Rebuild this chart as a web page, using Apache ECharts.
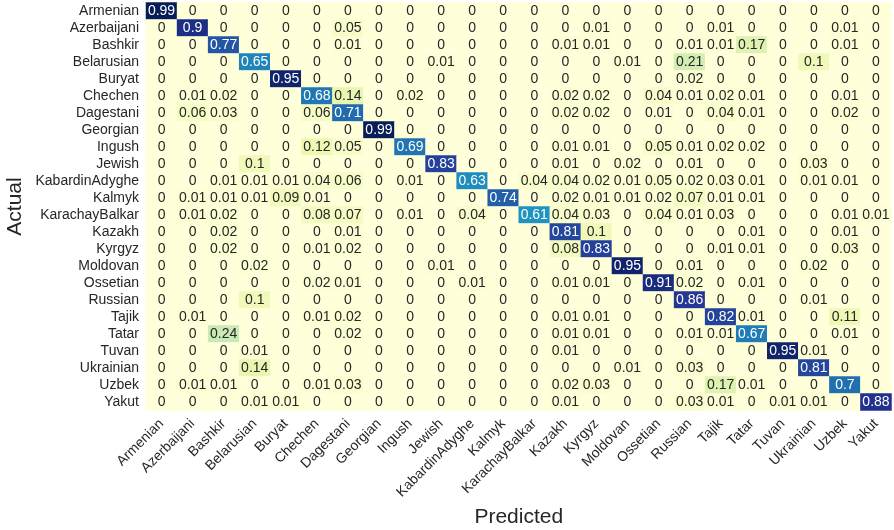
<!DOCTYPE html>
<html>
<head>
<meta charset="utf-8">
<script src="https://cdn.jsdelivr.net/npm/echarts@6/dist/echarts.min.js"></script>
<style>
  html, body { margin: 0; padding: 0; background: #ffffff; }
  #chart { width: 894px; height: 530px; }
</style>
</head>
<body>
<div id="chart"></div>
<script>
// Class labels (same order for actual rows and predicted columns)
const classes = [
  'Armenian', 'Azerbaijani', 'Bashkir', 'Belarusian', 'Buryat', 'Chechen',
  'Dagestani', 'Georgian', 'Ingush', 'Jewish', 'KabardinAdyghe', 'Kalmyk',
  'KarachayBalkar', 'Kazakh', 'Kyrgyz', 'Moldovan', 'Ossetian', 'Russian',
  'Tajik', 'Tatar', 'Tuvan', 'Ukrainian', 'Uzbek', 'Yakut'
];

// Normalised confusion matrix, one row per actual class
const rowArmenian       = [0.99,0,0,0,0,0,0,0,0,0,0,0,0,0,0,0,0,0,0,0,0,0,0,0];
const rowAzerbaijani    = [0,0.9,0,0,0,0,0.05,0,0,0,0,0,0,0,0.01,0,0,0,0.01,0,0,0,0.01,0];
const rowBashkir        = [0,0,0.77,0,0,0,0.01,0,0,0,0,0,0,0.01,0.01,0,0,0.01,0.01,0.17,0,0,0.01,0];
const rowBelarusian     = [0,0,0,0.65,0,0,0,0,0,0.01,0,0,0,0,0,0.01,0,0.21,0,0,0,0.1,0,0];
const rowBuryat         = [0,0,0,0,0.95,0,0,0,0,0,0,0,0,0,0,0,0,0.02,0,0,0,0,0,0];
const rowChechen        = [0,0.01,0.02,0,0,0.68,0.14,0,0.02,0,0,0,0,0.02,0.02,0,0.04,0.01,0.02,0.01,0,0,0.01,0];
const rowDagestani      = [0,0.06,0.03,0,0,0.06,0.71,0,0,0,0,0,0,0.02,0.02,0,0.01,0,0.04,0.01,0,0,0.02,0];
const rowGeorgian       = [0,0,0,0,0,0,0,0.99,0,0,0,0,0,0,0,0,0,0,0,0,0,0,0,0];
const rowIngush         = [0,0,0,0,0,0.12,0.05,0,0.69,0,0,0,0,0.01,0.01,0,0.05,0.01,0.02,0.02,0,0,0,0];
const rowJewish         = [0,0,0,0.1,0,0,0,0,0,0.83,0,0,0,0.01,0,0.02,0,0.01,0,0,0,0.03,0,0];
const rowKabardinAdyghe = [0,0,0.01,0.01,0.01,0.04,0.06,0,0.01,0,0.63,0,0.04,0.04,0.02,0.01,0.05,0.02,0.03,0.01,0,0.01,0.01,0];
const rowKalmyk         = [0,0.01,0.01,0.01,0.09,0.01,0,0,0,0,0,0.74,0,0.02,0.01,0.01,0.02,0.07,0.01,0.01,0,0,0,0];
const rowKarachayBalkar = [0,0.01,0.02,0,0,0.08,0.07,0,0.01,0,0.04,0,0.61,0.04,0.03,0,0.04,0.01,0.03,0,0,0,0.01,0.01];
const rowKazakh         = [0,0,0.02,0,0,0,0.01,0,0,0,0,0,0,0.81,0.1,0,0,0,0,0.01,0,0,0.01,0];
const rowKyrgyz         = [0,0,0.02,0,0,0.01,0.02,0,0,0,0,0,0,0.08,0.83,0,0,0,0.01,0.01,0,0,0.03,0];
const rowMoldovan       = [0,0,0,0.02,0,0,0,0,0,0.01,0,0,0,0,0,0.95,0,0.01,0,0,0,0.02,0,0];
const rowOssetian       = [0,0,0,0,0,0.02,0.01,0,0,0,0.01,0,0,0.01,0.01,0,0.91,0.02,0,0.01,0,0,0,0];
const rowRussian        = [0,0,0,0.1,0,0,0,0,0,0,0,0,0,0,0,0,0,0.86,0,0,0,0.01,0,0];
const rowTajik          = [0,0.01,0,0,0,0.01,0.02,0,0,0,0,0,0,0.01,0.01,0,0,0,0.82,0.01,0,0,0.11,0];
const rowTatar          = [0,0,0.24,0,0,0,0.02,0,0,0,0,0,0,0.01,0.01,0,0,0.01,0.01,0.67,0,0,0.01,0];
const rowTuvan          = [0,0,0,0.01,0,0,0,0,0,0,0,0,0,0.01,0,0,0,0,0,0,0.95,0.01,0,0];
const rowUkrainian      = [0,0,0,0.14,0,0,0,0,0,0,0,0,0,0,0,0.01,0,0.03,0,0,0,0.81,0,0];
const rowUzbek          = [0,0.01,0.01,0,0,0.01,0.03,0,0,0,0,0,0,0.02,0.03,0,0,0,0.17,0.01,0,0,0.7,0];
const rowYakut          = [0,0,0,0.01,0.01,0,0,0,0,0,0,0,0,0.01,0,0,0,0.03,0.01,0,0.01,0.01,0,0.88];

const matrix = [
  rowArmenian, rowAzerbaijani, rowBashkir, rowBelarusian, rowBuryat, rowChechen,
  rowDagestani, rowGeorgian, rowIngush, rowJewish, rowKabardinAdyghe, rowKalmyk,
  rowKarachayBalkar, rowKazakh, rowKyrgyz, rowMoldovan, rowOssetian, rowRussian,
  rowTajik, rowTatar, rowTuvan, rowUkrainian, rowUzbek, rowYakut
];

// YlGnBu sequential palette
const palette = ['#ffffd9', '#edf8b1', '#c7e9b4', '#7fcdbb', '#41b6c4',
                 '#1d91c0', '#225ea8', '#253494', '#081d58'];

const vmax = Math.max(...matrix.map(r => Math.max(...r)));

const cells = [];
matrix.forEach((row, r) => {
  row.forEach((v, c) => {
    cells.push({
      value: [c, r, v],
      label: { color: v > 0.45 ? '#ffffff' : '#262626' }
    });
  });
});

const chart = echarts.init(document.getElementById('chart'), null, { renderer: 'canvas' });

const font = '"Liberation Sans", Arial, sans-serif';

chart.setOption({
  backgroundColor: '#ffffff',
  animation: false,
  grid: {
    left: 146, right: 2.5, top: 2.5, bottom: 119.5,
    containLabel: false,
    outerBoundsMode: 'none'
  },
  xAxis: {
    type: 'category',
    data: classes,
    name: 'Predicted',
    nameLocation: 'middle',
    nameGap: 96,
    nameMoveOverlap: false,
    nameTextStyle: { fontFamily: font, fontSize: 21, color: '#262626' },
    axisLine: { show: false },
    axisTick: { show: false },
    splitLine: { show: false },
    axisLabel: {
      interval: 0,
      rotate: 45,
      margin: 11,
      fontFamily: font,
      fontSize: 14,
      color: '#262626'
    }
  },
  yAxis: {
    type: 'category',
    data: classes,
    inverse: true,
    name: 'Actual',
    nameLocation: 'middle',
    nameGap: 120,
    nameRotate: 90,
    nameMoveOverlap: false,
    nameTextStyle: { fontFamily: font, fontSize: 21, color: '#262626' },
    axisLine: { show: false },
    axisTick: { show: false },
    splitLine: { show: false },
    axisLabel: {
      interval: 0,
      margin: 7,
      fontFamily: font,
      fontSize: 14,
      color: '#262626'
    }
  },
  visualMap: {
    show: false,
    min: 0,
    max: vmax,
    dimension: 2,
    inRange: { color: palette }
  },
  series: [{
    type: 'heatmap',
    data: cells,
    itemStyle: { borderWidth: 0 },
    emphasis: { disabled: true },
    label: {
      show: true,
      fontFamily: font,
      fontSize: 14,
      formatter: p => String(p.value[2])
    }
  }]
});
</script>
</body>
</html>
